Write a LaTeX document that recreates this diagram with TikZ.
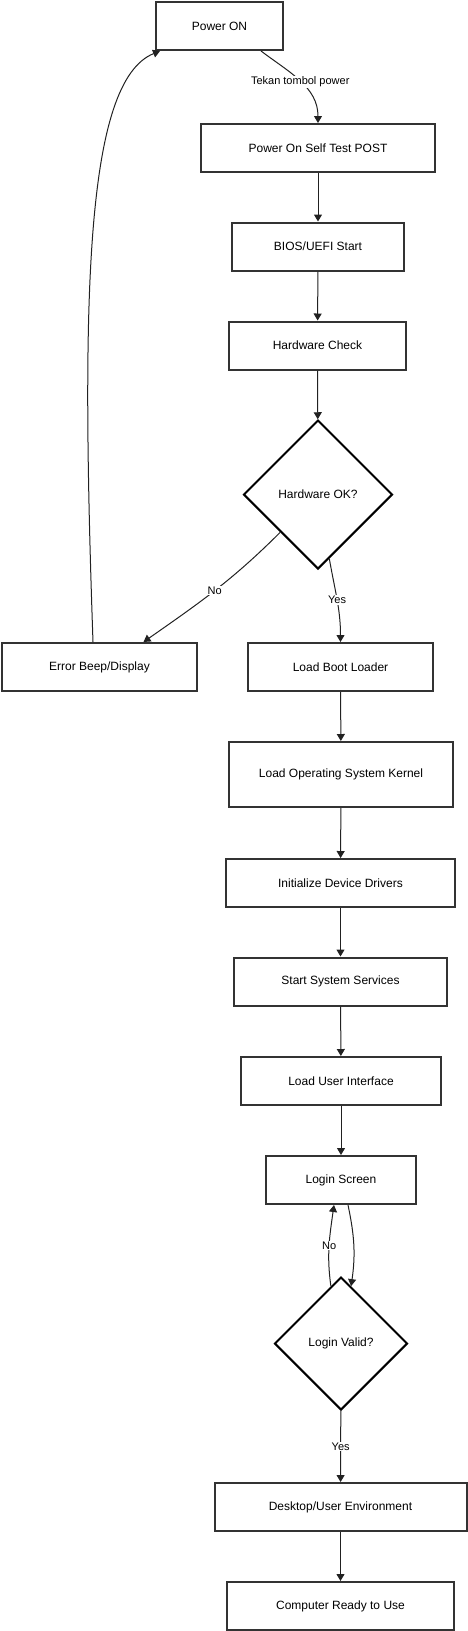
\documentclass[tikz,border=0pt]{standalone}
\usepackage{fontspec}
\setmainfont{Liberation Sans}
\usetikzlibrary{shapes.geometric, arrows.meta}
\definecolor{boxcolor}{rgb}{0.2, 0.2, 0.2}
\definecolor{edgecolor}{rgb}{0.13, 0.13, 0.13}

\tikzset{
  stepbox/.style={rectangle, draw=boxcolor, line width=2pt, fill=white, inner sep=0pt,
    minimum height=48, font=\fontsize{12}{14}\selectfont},
  decision/.style={diamond, aspect=1, draw=black, line width=2pt, fill=white, inner sep=0pt,
    font=\fontsize{12}{14}\selectfont},
  flow/.style={draw=edgecolor, line width=1pt, -{Triangle[length=7pt,width=8pt]}},
  edgelabel/.style={fill=white, inner sep=1pt, font=\fontsize{11}{13}\selectfont},
}

\begin{document}
\begin{tikzpicture}[x=1pt, y=1pt]
        \useasboundingbox (0,0) rectangle (468,-1631);

        \node[stepbox, minimum width=127] (pon) at (219.5,-26) {Power ON};
        \node[stepbox, minimum width=234] (post) at (318,-148) {Power On Self Test POST};
        \node[stepbox, minimum width=172] (bios) at (318,-246.5) {BIOS/UEFI Start};
        \node[stepbox, minimum width=177] (hwc) at (317.5,-345.5) {Hardware Check};
        \node[decision, minimum width=149, minimum height=149] (hwok) at (318,-494.5) {Hardware OK?};
        \node[stepbox, minimum width=195] (err) at (99.5,-667) {Error Beep/Display};
        \node[stepbox, minimum width=185] (boot) at (340.5,-667) {Load Boot Loader};
        \node[stepbox, minimum width=224, minimum height=65] (kernel) at (341,-774.5) {Load Operating System Kernel};
        \node[stepbox, minimum width=229] (drivers) at (340.5,-883) {Initialize Device Drivers};
        \node[stepbox, minimum width=213] (services) at (340.5,-981.5) {Start System Services};
        \node[stepbox, minimum width=200] (ui) at (341,-1081) {Load User Interface};
        \node[stepbox, minimum width=150] (login) at (341,-1180) {Login Screen};
        \node[decision, minimum width=133, minimum height=133] (valid) at (341,-1343.5) {Login Valid?};
        \node[stepbox, minimum width=252] (desktop) at (340.5,-1507) {Desktop/User Environment};
        \node[stepbox, minimum width=227] (ready) at (340.5,-1606) {Computer Ready to Use};

        \draw[flow] ([xshift=41.5]pon.south) to [out=-37,in=90] node[edgelabel] {Tekan tombol power} (post.north);
        \draw[flow] (post) -- (bios);
        \draw[flow] (bios) -- (hwc);
        \draw[flow] (hwc) -- (hwok);
        \draw[flow] (hwok.south west) to [out=-135,in=35] node[edgelabel] {No} ([xshift=44]err.north);
        \draw[flow] (hwok.-80) to [out=-80,in=90] node[edgelabel] {Yes} (boot.north);
        \draw[flow] ([xshift=-6.5]err.north) to [out=92,in=-158,out distance=343pt,in distance=81pt] ([xshift=-59.5]pon.south);
        \draw[flow] (boot) -- (kernel);
        \draw[flow] (kernel) -- (drivers);
        \draw[flow] (drivers) -- (services);
        \draw[flow] (services) -- (ui);
        \draw[flow] (ui) -- (login);
        \draw[flow] ([xshift=7]login.south) to [out=-78,in=82] (valid.80);
        \draw[flow] (valid.100) to [out=98,in=-98] node[edgelabel] {No} ([xshift=-7]login.south);
        \draw[flow] (valid) -- node[edgelabel] {Yes} (desktop);
        \draw[flow] (desktop) -- (ready);
      \end{tikzpicture}
\end{document}
